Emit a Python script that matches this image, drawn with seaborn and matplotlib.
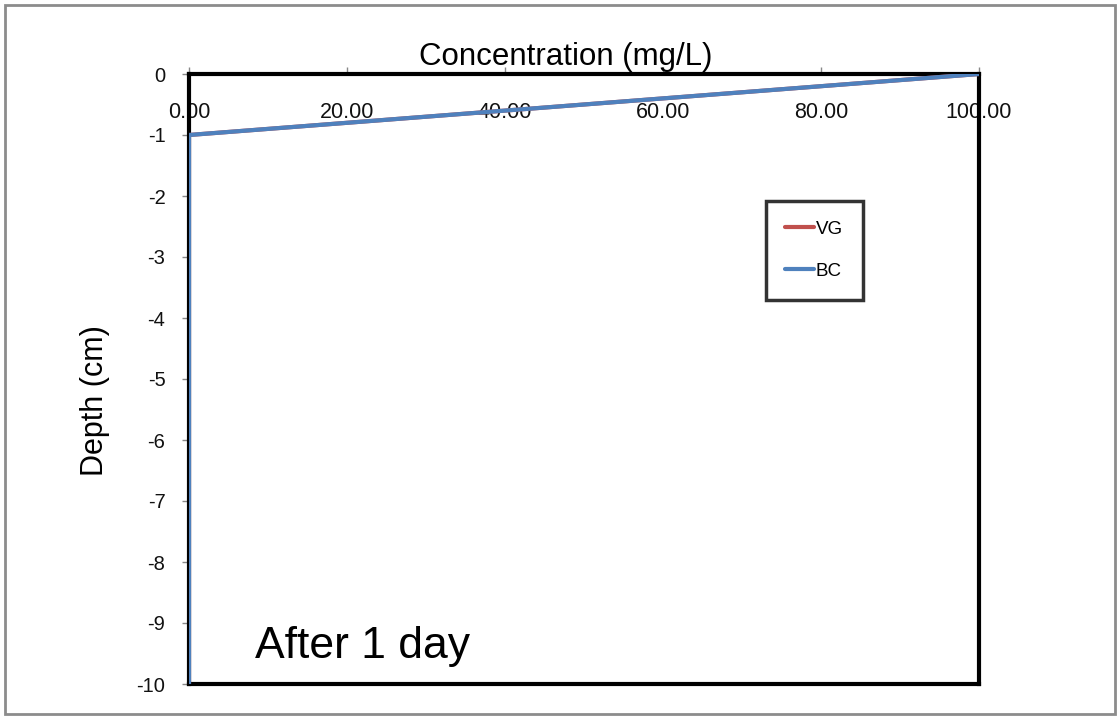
import seaborn as sns
import matplotlib.pyplot as plt
import pandas as pd
from matplotlib.patches import Rectangle

# profile after 1 day (both models give the same curve)
depth = [0, -1, -2, -3, -4, -5, -6, -7, -8, -9, -10]
conc_vg = [100, 0, 0, 0, 0, 0, 0, 0, 0, 0, 0]
conc_bc = [100, 0, 0, 0, 0, 0, 0, 0, 0, 0, 0]

x_ticks = [0, 20, 40, 60, 80, 100]
y_ticks = [0, -1, -2, -3, -4, -5, -6, -7, -8, -9, -10]

df = pd.concat([
    pd.DataFrame({"conc": conc_vg, "depth": depth, "model": "VG"}),
    pd.DataFrame({"conc": conc_bc, "depth": depth, "model": "BC"}),
])

sns.set_style("white")
plt.rcParams['font.family'] = ['Liberation Sans', 'DejaVu Sans']
plt.rcParams['text.color'] = 'black'

fig = plt.figure(figsize=(11.2, 7.19), dpi=100)
ax = fig.add_axes([189 / 1120, 1 - 684 / 719, (979 - 189) / 1120, (684 - 74) / 719])

sns.lineplot(data=df, x="conc", y="depth", hue="model", sort=False, estimator=None,
             palette={"VG": "#C0504D", "BC": "#4F81BD"}, linewidth=3, ax=ax, zorder=5)

ax.set_xlim(0, 100)
ax.set_ylim(-10, 0)
ax.set_xticks(x_ticks)
ax.set_xticklabels([f"{v:.2f}" for v in x_ticks])
ax.set_yticks(y_ticks)
ax.set_yticklabels([str(v) for v in y_ticks])

for s in ax.spines.values():
    s.set_visible(True)
    s.set_color("black")
    s.set_linewidth(3)

ax.tick_params(axis="x", top=True, bottom=False, labeltop=True, labelbottom=False,
               direction="out", length=5, width=1, color="#888888", pad=-40,
               labelsize=15.5, labelcolor="#111111")
ax.tick_params(axis="y", left=True, direction="out", length=5, width=1,
               color="#888888", pad=12, labelsize=14.5, labelcolor="#111111")

ax.set_xlabel("Concentration (mg/L)", fontsize=22.5, color="black")
ax.xaxis.set_label_coords(0.477, 1.004)
ax.xaxis.label.set_va("bottom")

ax.set_ylabel("Depth (cm)", fontsize=22, color="black")
ax.yaxis.set_label_coords(-0.119, 0.464)
ax.yaxis.label.set_va("center")

ax.text(0.0835, 0.062, "After 1 day", transform=ax.transAxes, fontsize=32,
        ha="left", va="center", color="black")

leg = ax.legend(loc="upper left", bbox_to_anchor=(0.730, 0.792), frameon=True,
                fancybox=False, fontsize=13.5, handlelength=1.5, handletextpad=0.12,
                handleheight=0.8, labelspacing=1.3, borderpad=1.05, borderaxespad=0)
leg.get_frame().set_edgecolor("black")
leg.get_frame().set_linewidth(2.5)
for h in leg.get_lines():
    h.set_linewidth(3)

fig.patches.append(Rectangle((5 / 1120, 5 / 719), 1110 / 1120, 709 / 719,
                             transform=fig.transFigure, fill=False,
                             edgecolor="#8c8c8c", linewidth=2))

fig.savefig("out.png", dpi=100)
